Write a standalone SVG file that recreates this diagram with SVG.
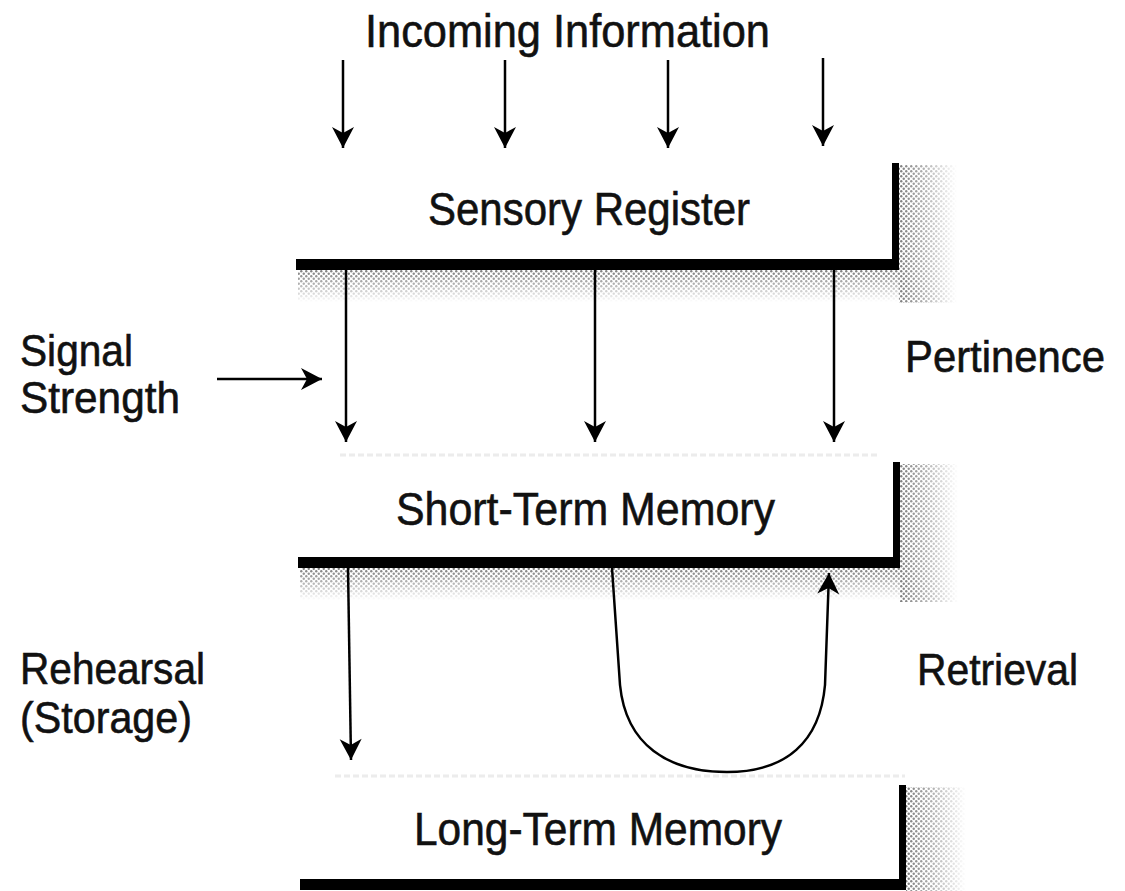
<svg xmlns="http://www.w3.org/2000/svg" width="1125" height="891" viewBox="0 0 1125 891">
  <style>
    .lbl { font-family: "Liberation Sans Narrow", "Liberation Sans", "DejaVu Sans Condensed", sans-serif; font-size: 47px; fill: #111; stroke: #111; stroke-width: 0.6; }
    .side { font-size: 44px; }
    .edge { fill: #000; }
    .conn { fill: none; stroke: #000; stroke-width: 2.5; marker-end: url(#arr); }
    .faint { stroke: #ececec; stroke-width: 3; fill: none; stroke-dasharray: 6 3; }
  </style>
  <defs>
    <marker id="arr" markerUnits="userSpaceOnUse" markerWidth="26" markerHeight="26" viewBox="-22 -13 24 26" refX="0" refY="0" orient="auto">
      <path d="M0,0 L-21,-11 L-15,0 L-21,11 Z" fill="#000"/>
    </marker>
    <pattern id="dots" patternUnits="userSpaceOnUse" width="5" height="5">
      <circle cx="1.25" cy="1.25" r="1.2" fill="#666"/>
      <circle cx="3.75" cy="3.75" r="1.2" fill="#666"/>
    </pattern>
    <linearGradient id="fadeR" x1="0" y1="0" x2="1" y2="0">
      <stop offset="0" stop-color="#fff" stop-opacity="0.85"/>
      <stop offset="0.45" stop-color="#fff" stop-opacity="0.5"/>
      <stop offset="1" stop-color="#fff" stop-opacity="0"/>
    </linearGradient>
    <linearGradient id="fadeD" x1="0" y1="0" x2="0" y2="1">
      <stop offset="0" stop-color="#fff" stop-opacity="0.85"/>
      <stop offset="0.45" stop-color="#fff" stop-opacity="0.5"/>
      <stop offset="1" stop-color="#fff" stop-opacity="0"/>
    </linearGradient>
    <mask id="m1">
      <rect x="899" y="165" width="58" height="138" fill="url(#fadeR)"/>
      <rect x="298" y="270" width="601" height="32" fill="url(#fadeD)"/>
    </mask>
    <mask id="m2">
      <rect x="900" y="464" width="58" height="138" fill="url(#fadeR)"/>
      <rect x="300" y="568" width="600" height="32" fill="url(#fadeD)"/>
    </mask>
    <mask id="m3">
      <rect x="906" y="787" width="60" height="104" fill="url(#fadeR)"/>
    </mask>
  </defs>
  <rect width="1125" height="891" fill="#fff"/>

  <g id="incoming-information">
    <text class="lbl" x="365" y="47" textLength="405" lengthAdjust="spacingAndGlyphs">Incoming Information</text>
  </g>

  <g id="sensory-register">
    <rect x="296" y="160" width="665" height="145" fill="url(#dots)" mask="url(#m1)"/>
    <rect class="edge" x="892" y="163" width="7" height="107"/>
    <rect class="edge" x="296" y="259" width="603" height="11"/>
    <text class="lbl" x="428" y="225" textLength="322" lengthAdjust="spacingAndGlyphs">Sensory Register</text>
  </g>

  <g id="short-term-memory">
    <line class="faint" x1="340" y1="455" x2="880" y2="455"/>
    <rect x="298" y="460" width="665" height="142" fill="url(#dots)" mask="url(#m2)"/>
    <rect class="edge" x="893" y="462" width="7" height="106"/>
    <rect class="edge" x="298" y="557" width="602" height="11"/>
    <text class="lbl" x="396" y="525" textLength="379" lengthAdjust="spacingAndGlyphs">Short-Term Memory</text>
  </g>

  <g id="long-term-memory">
    <line class="faint" x1="335" y1="776" x2="905" y2="776"/>
    <rect x="900" y="785" width="68" height="106" fill="url(#dots)" mask="url(#m3)"/>
    <rect class="edge" x="899" y="785" width="7" height="105"/>
    <rect class="edge" x="300" y="879" width="606" height="11"/>
    <text class="lbl" x="414" y="845" textLength="368" lengthAdjust="spacingAndGlyphs">Long-Term Memory</text>
  </g>

  <g id="signal-strength">
    <text class="lbl side" x="20" y="366" textLength="113" lengthAdjust="spacingAndGlyphs">Signal</text>
    <text class="lbl side" x="20" y="413" textLength="160" lengthAdjust="spacingAndGlyphs">Strength</text>
  </g>
  <g id="pertinence">
    <text class="lbl side" x="905" y="372" textLength="200" lengthAdjust="spacingAndGlyphs">Pertinence</text>
  </g>
  <g id="rehearsal">
    <text class="lbl side" x="20" y="684" textLength="185" lengthAdjust="spacingAndGlyphs">Rehearsal</text>
    <text class="lbl side" x="20" y="733" textLength="172" lengthAdjust="spacingAndGlyphs">(Storage)</text>
  </g>
  <g id="retrieval">
    <text class="lbl side" x="917" y="685" textLength="161" lengthAdjust="spacingAndGlyphs">Retrieval</text>
  </g>

  <g id="connectors">
    <line class="conn" x1="343" y1="60" x2="343" y2="148"/>
    <line class="conn" x1="505" y1="60" x2="505" y2="148"/>
    <line class="conn" x1="668" y1="60" x2="668" y2="148"/>
    <line class="conn" x1="823" y1="58" x2="823" y2="146"/>
    <line class="conn" x1="346" y1="270" x2="346" y2="442"/>
    <line class="conn" x1="595" y1="270" x2="595" y2="442"/>
    <line class="conn" x1="834" y1="270" x2="834" y2="442"/>
    <line class="conn" x1="217" y1="379" x2="322" y2="379"/>
    <line class="conn" x1="348" y1="568" x2="351" y2="760"/>
    <path class="conn" d="M612,568 L620,685 C626,745 668,772 727,772 C786,772 820,742 825,685 L829,573"/>
  </g>
</svg>
